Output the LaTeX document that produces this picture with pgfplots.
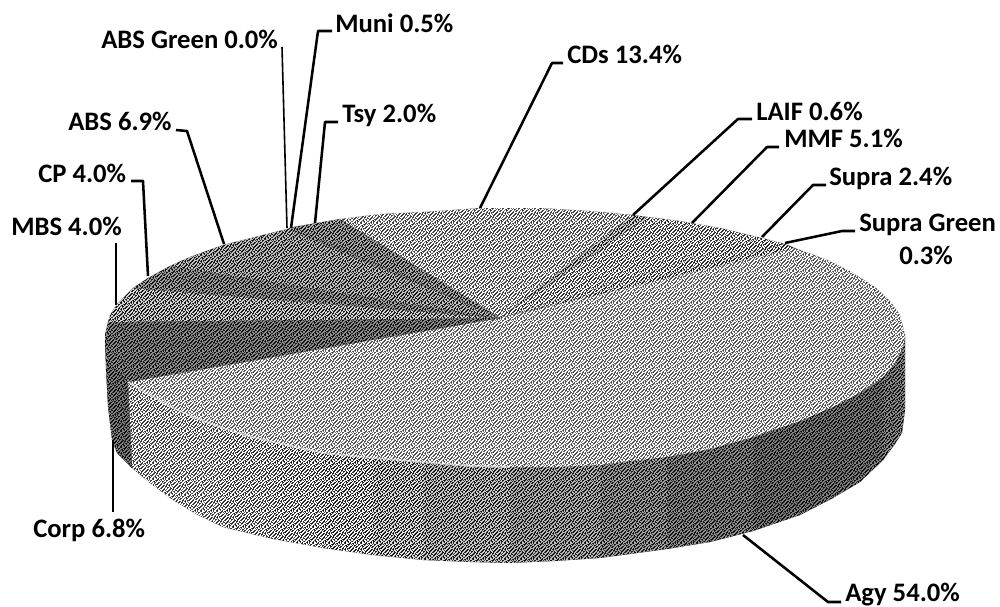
\documentclass[border=0pt]{standalone}
\usepackage{fontspec}
\setmainfont{Carlito}
\usepackage{pgfplots}
\pgfplotsset{compat=1.18}
\usetikzlibrary{patterns}
\newcommand\Rr[3]{\pgfpathrectangle{\pgfqpoint{\dimexpr.75pt*#1\relax}{\dimexpr.75pt*#2\relax}}{\pgfqpoint{\dimexpr.75pt*#3\relax}{.75pt}}}
\pgfdeclarepatternformonly{stip}{\pgfqpoint{-0.75pt}{-0.75pt}}{\pgfqpoint{12.75pt}{12.75pt}}{\pgfqpoint{12pt}{12pt}}{%
\Rr{0}{0}{2}\Rr{4}{0}{1}\Rr{6}{0}{2}\Rr{10}{0}{2}\Rr{13}{0}{1}\Rr{15}{0}{1}%
\Rr{1}{1}{2}\Rr{4}{1}{1}\Rr{7}{1}{2}\Rr{10}{1}{1}\Rr{13}{1}{2}%
\Rr{0}{2}{1}\Rr{2}{2}{2}\Rr{6}{2}{1}\Rr{8}{2}{2}\Rr{12}{2}{2}\Rr{15}{2}{1}%
\Rr{0}{3}{1}\Rr{3}{3}{3}\Rr{9}{3}{2}\Rr{12}{3}{1}\Rr{15}{3}{1}%
\Rr{1}{4}{1}\Rr{4}{4}{1}\Rr{6}{4}{2}\Rr{10}{4}{2}\Rr{13}{4}{2}%
\Rr{0}{5}{3}\Rr{5}{5}{1}\Rr{7}{5}{2}\Rr{11}{5}{1}\Rr{14}{5}{1}%
\Rr{2}{6}{2}\Rr{5}{6}{2}\Rr{8}{6}{2}\Rr{12}{6}{1}\Rr{14}{6}{2}%
\Rr{0}{7}{1}\Rr{3}{7}{2}\Rr{6}{7}{1}\Rr{9}{7}{1}\Rr{11}{7}{2}\Rr{15}{7}{1}%
\Rr{0}{8}{2}\Rr{4}{8}{1}\Rr{7}{8}{2}\Rr{10}{8}{2}\Rr{13}{8}{1}%
\Rr{1}{9}{2}\Rr{5}{9}{1}\Rr{7}{9}{1}\Rr{10}{9}{1}\Rr{12}{9}{3}%
\Rr{2}{10}{4}\Rr{8}{10}{1}\Rr{10}{10}{1}\Rr{14}{10}{2}%
\Rr{0}{11}{1}\Rr{2}{11}{1}\Rr{5}{11}{2}\Rr{8}{11}{2}\Rr{11}{11}{2}\Rr{15}{11}{1}%
\Rr{0}{12}{2}\Rr{3}{12}{1}\Rr{6}{12}{2}\Rr{9}{12}{1}\Rr{12}{12}{2}%
\Rr{1}{13}{1}\Rr{4}{13}{2}\Rr{7}{13}{2}\Rr{11}{13}{1}\Rr{13}{13}{3}%
\Rr{0}{14}{1}\Rr{2}{14}{2}\Rr{5}{14}{1}\Rr{8}{14}{3}\Rr{14}{14}{1}%
\Rr{2}{15}{1}\Rr{4}{15}{1}\Rr{6}{15}{2}\Rr{10}{15}{3}\Rr{15}{15}{1}%
\pgfusepath{fill}}
\tikzset{
 sh/.style 2 args={draw=none,fill=black!#1,postaction={pattern=stip,pattern color=black!#2}},
 ld/.style={draw=black,line width=1.9pt,line join=round},
 ldt/.style={draw=black,line width=1.2pt,line join=round},
 lab/.style={anchor=base west,inner sep=0pt,font=\fontsize{20pt}{22pt}\selectfont\bfseries,text=black}
}
\begin{document}
\begin{tikzpicture}
\useasboundingbox (0,0) rectangle (750pt,455.25pt);
\begin{axis}[at={(0,0)},anchor=south west,scale only axis,width=750pt,height=455.25pt,
 hide axis,xmin=0,xmax=1000,ymin=0,ymax=607,y dir=reverse,clip=false]
% side of the pie: Agy strips, left to right
\addplot[sh={88}{0}] coordinates {(128,382)(150,395)(173,408)(173,500)(150,483)(132,468)};
\addplot[sh={88}{0}] coordinates {(173,408)(198,419)(223,428)(223,527)(198,515)(173,500)};
\addplot[sh={92}{0}] coordinates {(223,428)(248,436)(273,442)(273,539)(248,533)(223,527)};
\addplot[sh={96}{0}] coordinates {(273,442)(323,453)(323,548)(273,539)};
\addplot[sh={100}{4}] coordinates {(323,453)(373,458)(373,555)(323,548)};
\addplot[sh={100}{12}] coordinates {(373,458)(423,462)(423,560)(373,555)};
\addplot[sh={100}{20}] coordinates {(423,462)(470,466)(510,467)(510,563)(470,562)(423,560)};
\addplot[sh={100}{28}] coordinates {(510,467)(555,467)(600,465)(600,558)(555,561)(510,563)};
\addplot[sh={100}{36}] coordinates {(600,465)(630,461)(667,457)(667,549)(630,554)(600,558)};
\addplot[sh={100}{44}] coordinates {(667,457)(710,449)(753,437)(753,531)(710,542)(667,549)};
\addplot[sh={100}{50}] coordinates {(753,437)(800,421)(833,407)(833,498)(800,515)(753,531)};
\addplot[sh={100}{50}] coordinates {(833,407)(860,393)(883,377)(883,460)(860,482)(833,498)};
\addplot[sh={100}{44}] coordinates {(883,377)(895,363)(903,347)(905,335)(905,410)(902,433)(895,444)(883,460)};
% side of the pie: Corp
\addplot[sh={100}{50}] coordinates {(105,335)(106,370)(108,407)(112,440)(117,453)(132,468)(128,382)};
% top face
\addplot[sh={84}{0}] coordinates {(500,318)(340,219)(380,214)(423,212)(480,208)(505,208)(540,208)(590,211)(633,215)};
\addplot[sh={100}{16}] coordinates {(500,318)(633,215)(648,217)};
\addplot[sh={92}{0}] coordinates {(500,318)(648,217)(680,221)(720,228)(762,238)};
\addplot[sh={96}{0}] coordinates {(500,318)(762,238)(785,244)};
\addplot[sh={100}{4}] coordinates {(500,318)(785,244)(795,248)};
\addplot[sh={76}{0}] coordinates {(500,318)(795,248)(825,259)(850,271)(875,287)(890,301)(900,315)(905,335)(903,347)(895,363)(883,377)(860,393)(833,407)(800,421)(753,437)(710,449)(667,457)(630,461)(600,465)(555,467)(510,467)(470,466)(423,462)(373,458)(323,453)(273,442)(248,436)(223,428)(198,419)(173,408)(150,395)(128,382)};
\addplot[sh={100}{44}] coordinates {(500,318)(128,382)(106,360)(105,335)(108,322)};
\addplot[sh={100}{16}] coordinates {(500,318)(108,322)(110,315)(117,304)(133,288)};
\addplot[sh={100}{36}] coordinates {(500,318)(133,288)(148,278)(170,266)};
\addplot[sh={100}{24}] coordinates {(500,318)(170,266)(190,257)(223,245)(287,229)};
\addplot[sh={100}{36}] coordinates {(500,318)(287,229)(293,227)};
\addplot[sh={100}{32}] coordinates {(500,318)(293,227)(340,219)};
% highlight on the rim of the Agy slice
\addplot[draw=white,opacity=.55,line width=1.4pt] coordinates {(128,382)(150,395)(173,408)(198,419)(223,428)(248,436)(273,442)(323,453)(373,458)(423,462)(470,466)(510,467)};
% leader lines
\addplot[ldt] coordinates {(282,47)(287,228)};
\addplot[ld] coordinates {(332,31)(318,31)(291,228)};
\addplot[ld] coordinates {(338,122)(325,122)(315,223)};
\addplot[ld] coordinates {(176,130)(187,131)(224,244)};
\addplot[ld] coordinates {(131,181)(143,181)(148,276)};
\addplot[ldt] coordinates {(116,243)(116,305)};
\addplot[ld] coordinates {(113,440)(113,512)};
\addplot[ld] coordinates {(743,535)(828,602)(841,602)};
\addplot[ld] coordinates {(480,208)(552,63)(563,63)};
\addplot[ld] coordinates {(633,215)(738,119)(752,119)};
\addplot[ld] coordinates {(692,223)(767,147)(779,147)};
\addplot[ld] coordinates {(762,237)(813,185)(826,185)};
\addplot[ld] coordinates {(785,243)(842,231)(855,231)};
% labels
\node[lab] at (axis cs:101,48) {ABS Green 0.0\%};
\node[lab] at (axis cs:335,32) {Muni 0.5\%};
\node[lab] at (axis cs:342,122) {Tsy 2.0\%};
\node[lab] at (axis cs:68,130) {ABS 6.9\%};
\node[lab] at (axis cs:38,182) {CP 4.0\%};
\node[lab] at (axis cs:11,235) {MBS 4.0\%};
\node[lab] at (axis cs:33,537) {Corp 6.8\%};
\node[lab] at (axis cs:567,63) {CDs 13.4\%};
\node[lab] at (axis cs:756,120) {LAIF 0.6\%};
\node[lab] at (axis cs:784,147) {MMF 5.1\%};
\node[lab] at (axis cs:829,185) {Supra 2.4\%};
\node[lab] at (axis cs:859,231) {Supra Green};
\node[lab] at (axis cs:899,264) {0.3\%};
\node[lab] at (axis cs:845,601) {Agy 54.0\%};
\end{axis}
\end{tikzpicture}
\end{document}
